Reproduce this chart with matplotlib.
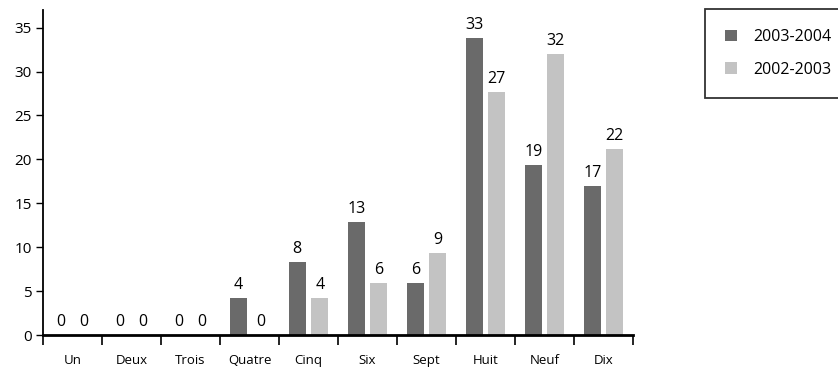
import matplotlib.pyplot as plt
import numpy as np

plt.rcParams["font.family"] = ["Open Sans", "DejaVu Sans"]

categories = ["Un", "Deux", "Trois", "Quatre", "Cinq", "Six", "Sept", "Huit", "Neuf", "Dix"]
# bar heights as drawn, and the value labels printed above them
heights_0304 = [0, 0, 0, 4.2, 8.3, 12.9, 5.9, 33.8, 19.3, 17.0]
heights_0203 = [0, 0, 0, 0, 4.2, 5.9, 9.3, 27.7, 32.0, 21.2]
labels_0304 = ["0", "0", "0", "4", "8", "13", "6", "33", "19", "17"]
labels_0203 = ["0", "0", "0", "0", "4", "6", "9", "27", "32", "22"]
series_names = ["2003-2004", "2002-2003"]
colors = ["#6a6a6a", "#c3c3c3"]


def main() -> None:
    fig = plt.figure(figsize=(8.38, 3.71), dpi=100)
    ax = fig.add_axes([0.0513, 0.097, 0.7041, 0.876])

    x = np.arange(len(categories))
    w = 0.29
    off = 0.19
    b1 = ax.bar(x - off, heights_0304, w, color=colors[0], label=series_names[0])
    b2 = ax.bar(x + off, heights_0203, w, color=colors[1], label=series_names[1])

    for bars, labs in ((b1, labels_0304), (b2, labels_0203)):
        for rect, lab in zip(bars, labs):
            ax.annotate(lab, (rect.get_x() + rect.get_width() / 2, rect.get_height()),
                        xytext=(0, 6.5), textcoords="offset points",
                        ha="center", va="baseline", fontsize=11.5)

    ax.set_xlim(-0.5, len(categories) - 0.5)
    ax.set_ylim(0, 37)
    ax.set_yticks(range(0, 36, 5))
    ax.set_xticks(x)
    ax.set_xticklabels(categories, fontsize=9.5)
    ax.set_xticks(np.arange(-0.5, len(categories)), minor=True)
    ax.tick_params(axis="x", which="major", length=0, pad=14)
    ax.tick_params(axis="x", which="minor", length=7, width=1.2, direction="out")
    ax.tick_params(axis="y", length=5, width=1, labelsize=11, pad=3)

    for s in ("top", "right"):
        ax.spines[s].set_visible(False)
    ax.spines["left"].set_linewidth(1.3)
    ax.spines["bottom"].set_linewidth(2)

    leg = fig.legend(handles=[b1, b2], loc="upper left",
                     bbox_to_anchor=(705 / 838, 1 - 97 / 371, 140 / 838, 88 / 371),
                     mode="expand", fontsize=11.5, frameon=True, fancybox=False,
                     handlelength=0.75, handleheight=0.75, handletextpad=1.05,
                     labelspacing=1.05, borderpad=1.25, borderaxespad=0)
    leg.get_frame().set_edgecolor("black")
    leg.get_frame().set_linewidth(1.3)

    fig.savefig("out.png", dpi=100)


if __name__ == "__main__":
    main()
